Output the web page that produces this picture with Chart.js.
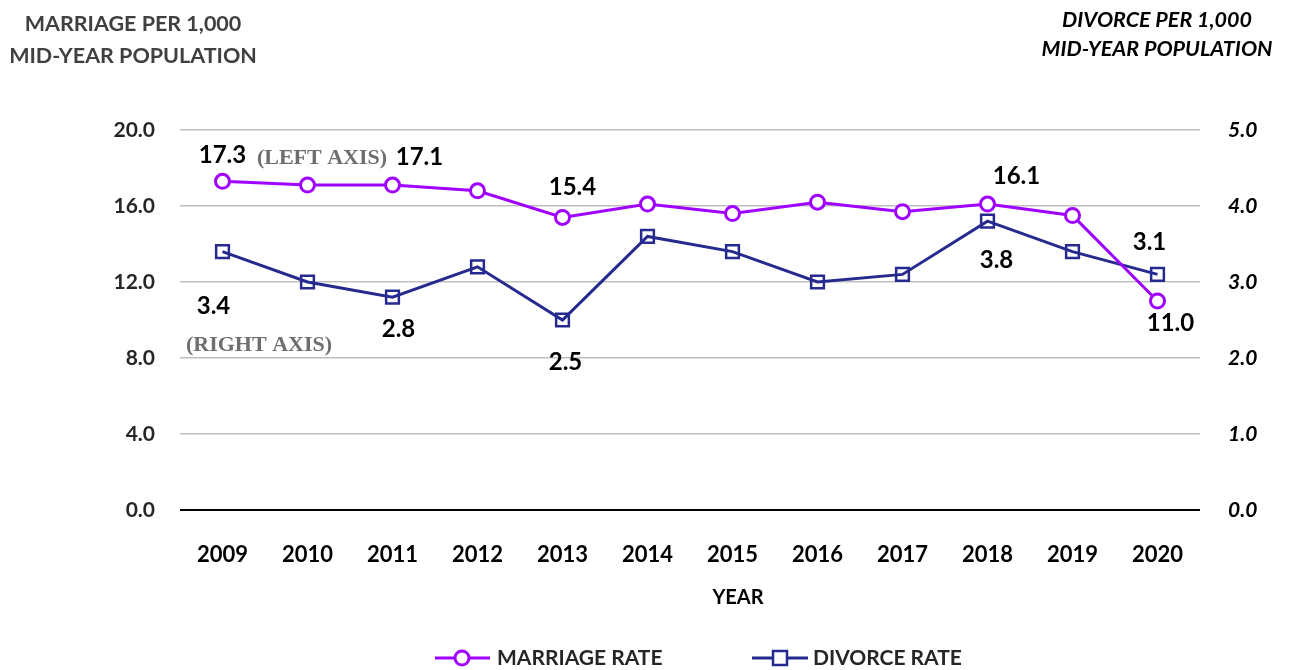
<!DOCTYPE html>
<html>
<head>
<meta charset="utf-8">
<script src="https://cdn.jsdelivr.net/npm/chart.js"></script>
<style>
  html, body { margin: 0; padding: 0; background: #fff; }
  #wrap { width: 1296px; height: 670px; position: relative; }
</style>
</head>
<body>
<div id="wrap"><canvas id="chart" width="1296" height="670"></canvas></div>
<script>
const years = ['2009', '2010', '2011', '2012', '2013', '2014', '2015', '2016', '2017', '2018', '2019', '2020'];
const marriageRate = [17.3, 17.1, 17.1, 16.8, 15.4, 16.1, 15.6, 16.2, 15.7, 16.1, 15.5, 11.0];
const divorceRate = [3.4, 3.0, 2.8, 3.2, 2.5, 3.6, 3.4, 3.0, 3.1, 3.8, 3.4, 3.1];
const leftTicks = [0, 4, 8, 12, 16, 20];
const rightTicks = [0, 1, 2, 3, 4, 5];

const PURPLE = '#A000FF';
const NAVY = '#262A8E';
const FONT = 'Lato, "Open Sans", sans-serif';
const W = 'bold';

// which points get a value label, and where it sits relative to the point
const marriageLabelAt = { 0: [0, -26], 2: [27, -28], 4: [10, -30], 9: [29, -28], 11: [13, 22] };
const divorceLabelAt = { 0: [-9, 55], 2: [6, 32], 4: [3, 42], 9: [9, 39], 11: [-8, -32] };

const valueLabels = {
  id: 'valueLabels',
  afterDatasetsDraw(chart) {
    const ctx = chart.ctx;
    ctx.save();
    ctx.font = W + ' 24px ' + FONT;
    ctx.fillStyle = '#000';
    ctx.textAlign = 'center';
    ctx.textBaseline = 'middle';
    [[0, marriageLabelAt, marriageRate], [1, divorceLabelAt, divorceRate]].forEach(function (d) {
      const meta = chart.getDatasetMeta(d[0]);
      Object.keys(d[1]).forEach(function (i) {
        const pt = meta.data[i];
        const off = d[1][i];
        ctx.fillText(d[2][i].toFixed(1), pt.x + off[0], pt.y + off[1]);
      });
    });

    // axis hints
    const a = chart.chartArea;
    ctx.font = 'bold 22px "Liberation Serif", serif';
    ctx.fillStyle = '#6E6E6E';
    ctx.fillText('(LEFT AXIS)', a.left + 142, 158);
    ctx.fillText('(RIGHT AXIS)', a.left + 79, 345);
    ctx.restore();
  },
  afterDraw(chart) {
    const ctx = chart.ctx;
    ctx.save();
    ctx.textBaseline = 'middle';

    // axis titles
    ctx.textAlign = 'center';
    ctx.fillStyle = '#404040';
    ctx.font = W + ' 21.5px ' + FONT;
    ctx.fillText('MARRIAGE PER 1,000', 133, 24);
    ctx.fillText('MID-YEAR POPULATION', 133, 56);
    ctx.fillStyle = '#000';
    ctx.font = 'italic ' + W + ' 21.5px ' + FONT;
    ctx.fillText('DIVORCE PER 1,000', 1157, 20);
    ctx.fillText('MID-YEAR POPULATION', 1157, 49);

    ctx.font = W + ' 20px ' + FONT;
    ctx.fillText('YEAR', 738, 598);

    // legend
    const ly = 658;
    ctx.lineWidth = 3;
    ctx.strokeStyle = PURPLE;
    ctx.beginPath(); ctx.moveTo(435, ly); ctx.lineTo(490, ly); ctx.stroke();
    ctx.fillStyle = '#fff';
    ctx.beginPath(); ctx.arc(462, ly, 7, 0, Math.PI * 2); ctx.fill(); ctx.stroke();
    ctx.strokeStyle = NAVY;
    ctx.beginPath(); ctx.moveTo(752, ly); ctx.lineTo(808, ly); ctx.stroke();
    ctx.lineWidth = 2.5;
    ctx.fillRect(773, ly - 7, 14, 14); ctx.strokeRect(773, ly - 7, 14, 14);
    ctx.fillStyle = '#262626';
    ctx.textAlign = 'left';
    ctx.font = W + ' 21px ' + FONT;
    ctx.fillText('MARRIAGE RATE', 497, ly);
    ctx.fillText('DIVORCE RATE', 813, ly);
    ctx.restore();
  }
};

new Chart(document.getElementById('chart'), {
  type: 'line',
  data: {
    labels: years,
    datasets: [{
      label: 'MARRIAGE RATE',
      data: marriageRate,
      yAxisID: 'y',
      borderColor: PURPLE,
      backgroundColor: '#fff',
      borderWidth: 3,
      pointStyle: 'circle',
      pointRadius: 7,
      pointBorderWidth: 3,
      pointBackgroundColor: '#fff',
      pointBorderColor: PURPLE,
      tension: 0
    }, {
      label: 'DIVORCE RATE',
      data: divorceRate,
      yAxisID: 'y1',
      borderColor: NAVY,
      backgroundColor: '#fff',
      borderWidth: 3,
      pointStyle: 'rect',
      pointRadius: 9,
      pointBorderWidth: 2.5,
      pointBackgroundColor: 'rgba(255,255,255,0)',
      pointBorderColor: NAVY,
      tension: 0
    }]
  },
  options: {
    responsive: false,
    animation: false,
    layout: { padding: { top: 130, left: 0, right: 0, bottom: 0 } },
    plugins: { legend: { display: false }, tooltip: { enabled: false } },
    scales: {
      x: {
        offset: true,
        grid: { display: false, drawTicks: false },
        border: { display: false },
        ticks: { color: '#000', font: { family: FONT, size: 22, weight: W }, padding: 32, maxRotation: 0 },
        afterFit(scale) { scale.height = 160; }
      },
      y: {
        position: 'left',
        min: 0, max: 20,
        afterBuildTicks(scale) { scale.ticks = leftTicks.map(v => ({ value: v })); },
        grid: {
          drawTicks: false,
          color: ctx => ctx.tick && ctx.tick.value === 0 ? '#000' : '#BFBFBF',
          lineWidth: ctx => ctx.tick && ctx.tick.value === 0 ? 2 : 1.5
        },
        border: { display: false },
        ticks: { color: '#262626', font: { family: FONT, size: 21, weight: W }, padding: 25,
          callback: v => v.toFixed(1) },
        afterFit(scale) { scale.width = 180; }
      },
      y1: {
        position: 'right',
        min: 0, max: 5,
        afterBuildTicks(scale) { scale.ticks = rightTicks.map(v => ({ value: v })); },
        grid: { display: false, drawTicks: false },
        border: { display: false },
        ticks: { color: '#000', font: { family: FONT, size: 21, weight: W, style: 'italic' }, padding: 28,
          callback: v => v.toFixed(1) },
        afterFit(scale) { scale.width = 96; }
      }
    }
  },
  plugins: [valueLabels]
});
</script>
</body>
</html>
